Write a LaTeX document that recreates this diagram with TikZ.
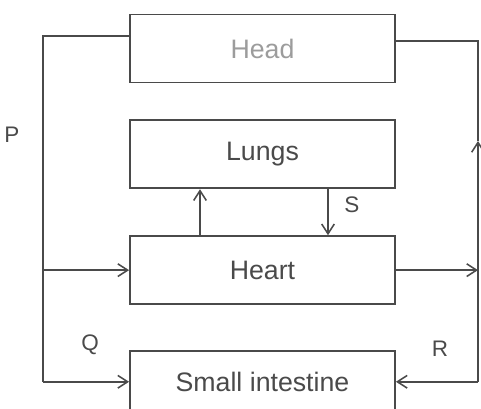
\documentclass[tikz,border=0pt]{standalone}
\usepackage{fontspec}
\setmainfont{Liberation Sans}
\usetikzlibrary{positioning,arrows.meta}
\definecolor{ink}{HTML}{4A4A4A}
\tikzset{
organ/.style={draw=ink, line width=1.3pt, minimum width=6.625cm, minimum height=1.7cm, text=ink, font=\fontsize{19}{22}\selectfont},
vessel/.style={draw=ink, line width=1.2pt},
flow/.style={vessel, -{Straight Barb[length=7pt,width=9pt,line width=1.1pt]}},
tag/.style={text=ink, font=\fontsize{16}{18}\selectfont}
}
\begin{document}
\begin{tikzpicture}
\useasboundingbox (0,0) rectangle (12.025,10.225);
\node [organ, text=ink!55] (head) at (6.5625,9.0125) {Head};
\node [organ, below=0.9cm of head] (lungs) {Lungs};
\node [organ, below=1.15cm of lungs] (heart) {Heart};
\node [organ, below=1.12cm of heart, minimum height=1.55cm] (gut) {Small intestine};
% left vessel
\coordinate (ltop) at ([yshift=0.31cm]head.west -| 1.075,0);
\coordinate (lmid) at (ltop |- heart.west);
\coordinate (lbot) at (ltop |- gut.west);
\draw [vessel] ([yshift=0.31cm]head.west) -- (ltop) -- (lbot);
\draw [flow] (lmid) -- (heart.west);
\draw [flow] (lbot) -- (gut.west);
% right vessel
\coordinate (rtop) at ([yshift=0.19cm]head.east -| 11.95,0);
\coordinate (rup) at (11.95,6.7);
\coordinate (rmid) at (rtop |- heart.east);
\coordinate (rbot) at (rtop |- gut.east);
\draw [vessel] ([yshift=0.19cm]head.east) -- (rtop) -- (rup);
\draw [flow] (rbot) -- (rup);
\draw [flow] (heart.east) -- (rmid);
\draw [flow] (rbot) -- (gut.east);
% heart and lungs
\draw [flow] (heart.north -| 5,0) -- (lungs.south -| 5,0);
\draw [flow] (lungs.south -| 8.2,0) -- (heart.north -| 8.2,0);
\node [tag] (p) at (0.3,6.85) {P};
\node [tag] (q) at (2.25,1.6) {Q};
\node [tag] (r) at (11.0,1.5) {R};
\node [tag] (s) at (8.8,5.1) {S};
\end{tikzpicture}
\end{document}
